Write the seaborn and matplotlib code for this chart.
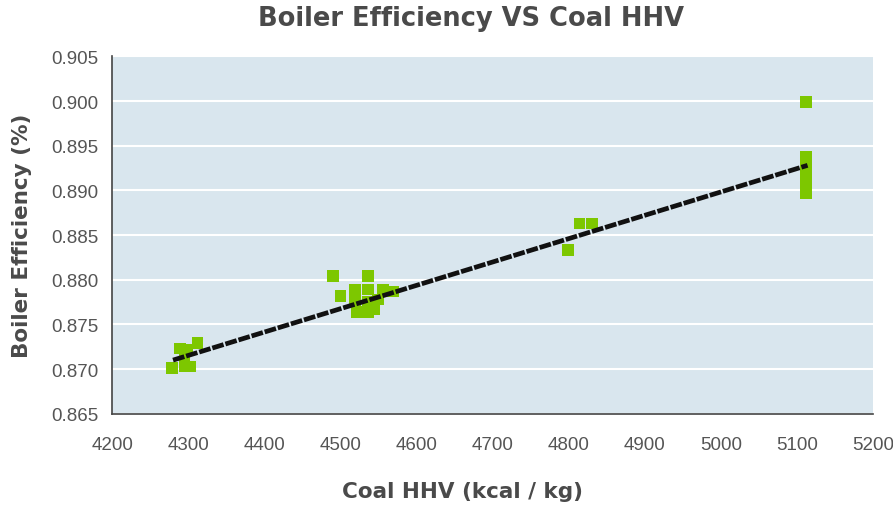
import matplotlib
matplotlib.use('Agg')
import matplotlib.pyplot as plt
import seaborn as sns
import pandas as pd

# Measured points (Coal HHV kcal/kg, boiler efficiency)
coal_hhv = [4279, 4289, 4299, 4312, 4296, 4302, 4295,
            4490, 4500, 4519, 4519, 4521, 4536, 4536, 4536, 4536,
            4545, 4549, 4556, 4569,
            4799, 4814, 4831,
            5112, 5112, 5112, 5112, 5112, 5112, 5112]
efficiency = [0.8701, 0.8723, 0.8722, 0.8729, 0.8703, 0.8703, 0.8714,
              0.8804, 0.8782, 0.8789, 0.8776, 0.8764, 0.8804, 0.8789, 0.8775, 0.8764,
              0.8767, 0.8778, 0.8789, 0.8787,
              0.8833, 0.8863, 0.8863,
              0.8999, 0.8938, 0.8930, 0.8920, 0.8910, 0.8903, 0.8897]

# Trend line ends
trend_x = [4280, 5114]
trend_y = [0.8710, 0.8928]

x_ticks = list(range(4200, 5201, 100))
y_ticks = [0.865, 0.870, 0.875, 0.880, 0.885, 0.890, 0.895, 0.900, 0.905]

df = pd.DataFrame({'hhv': coal_hhv, 'eff': efficiency})
trend = pd.DataFrame({'hhv': trend_x, 'eff': trend_y})

sns.set_style('white')
plt.rcParams['font.family'] = ['Liberation Sans', 'DejaVu Sans']

fig = plt.figure(figsize=(8.93, 5.06), dpi=100)
ax = fig.add_axes([0.1256, 0.1804, 0.852, 0.7063])
ax.set_facecolor('#d9e6ee')

sns.scatterplot(data=df, x='hhv', y='eff', ax=ax, marker='s', s=70,
                color='#7dc700', edgecolor='none', zorder=3)
sns.lineplot(data=trend, x='hhv', y='eff', ax=ax, color='#111111',
             linewidth=3.4, zorder=4)
ax.lines[-1].set_linestyle((0, (2.5, 0.4)))

ax.set_xlim(4200, 5200)
ax.set_ylim(0.865, 0.905)
ax.set_xticks(x_ticks)
ax.set_yticks(y_ticks)
ax.set_yticklabels([f'{v:.3f}' for v in y_ticks])
ax.grid(axis='y', color='white', linewidth=1.5)
ax.set_axisbelow(True)

for side in ['top', 'right']:
    ax.spines[side].set_visible(False)
for side in ['left', 'bottom']:
    ax.spines[side].set_color('#444444')
    ax.spines[side].set_linewidth(1.2)

ax.tick_params(axis='x', direction='out', length=8, width=1.2, color='#444444',
               labelsize=13.5, labelcolor='#555555', pad=8)
ax.tick_params(axis='y', length=0, labelsize=13.5, labelcolor='#555555', pad=10)

ax.set_xlabel('Coal HHV (kcal / kg)', fontsize=15.5, fontweight='bold',
              color='#4a4a4a', family=['DejaVu Sans'], labelpad=20)
ax.xaxis.label.set_x(0.46)
ax.set_ylabel('Boiler Efficiency (%)', fontsize=15.5, fontweight='bold',
              color='#4a4a4a', family=['DejaVu Sans'], labelpad=14)
fig.text(0.527, 0.962, 'Boiler Efficiency VS Coal HHV', ha='center', va='center',
         fontsize=18.5, fontweight='heavy', color='#4a4a4a',
         family=['DejaVu Sans'])

fig.savefig('out.png', dpi=100)
